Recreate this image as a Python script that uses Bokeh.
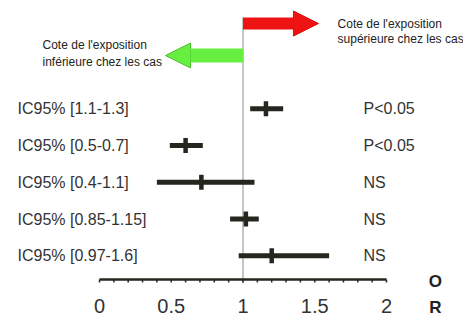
from bokeh.plotting import figure
from bokeh.models import ColumnDataSource, Arrow, NormalHead
from bokeh.core.properties import value
from bokeh.embed import file_html
from bokeh.resources import INLINE

# ---- data ----
ci_labels = ["IC95% [1.1-1.3]", "IC95% [0.5-0.7]", "IC95% [0.4-1.1]",
             "IC95% [0.85-1.15]", "IC95% [0.97-1.6]"]
odds_ratio = [1.16, 0.60, 0.71, 1.02, 1.20]
ci_low = [1.05, 0.49, 0.40, 0.91, 0.97]
ci_high = [1.28, 0.72, 1.08, 1.11, 1.60]
significance = ["P<0.05", "P<0.05", "NS", "NS", "NS"]
null_value = 1
tick_values = [0, 0.5, 1, 1.5, 2]
tick_labels = ["0", "0.5", "1", "1.5", "2"]
minor_ticks = [i / 10 for i in range(0, 21)]
upper_text = ["Cote de l'exposition", "supérieure chez les cas"]
lower_text = ["Cote de l'exposition", "inférieure chez les cas"]
axis_caption = ["O", "R"]

# ---- layout ----
n = len(ci_labels)
rows = [n - i for i in range(n)]  # top to bottom
FONT = "Liberation Sans"
TXT = "#333333"
DARK = "#26261f"
AXIS_Y = 0.355          # vertical position of the OR axis
TICK_LEN = 0.08         # tick length (data units)

p = figure(frame_width=463, frame_height=316, x_range=(-0.6899, 2.5366),
           y_range=(-0.652, 7.947),
           output_backend="svg", toolbar_location=None, min_border=0)
p.outline_line_color = None
p.xgrid.visible = False
p.ygrid.visible = False
p.xaxis.visible = False
p.yaxis.visible = False
p.background_fill_color = "white"
p.border_fill_color = "white"

src = ColumnDataSource(dict(y=rows, lab=ci_labels, orv=odds_ratio, lo=ci_low,
                            hi=ci_high, sig=significance))

# reference line at OR = 1
p.segment(x0=[null_value], x1=[null_value], y0=[7.48], y1=[AXIS_Y - 0.11],
          line_color="#b3b3b3", line_width=1.5)

# CI bars and point estimates
p.segment(x0="lo", x1="hi", y0="y", y1="y", source=src, line_color=DARK,
          line_width=5, line_cap="butt")
p.rect(x="orv", y="y", width=4.5, height=15, width_units="screen",
       height_units="screen", source=src, fill_color=DARK, line_color=None)

# row labels and significance
p.text(x=-0.571, y="y", text="lab", source=src, text_font=value(FONT),
       text_font_size="16px", text_color=TXT, text_baseline="middle")
p.text(x=1.84, y="y", text="sig", source=src, text_font=value(FONT),
       text_font_size="16px", text_color=TXT, text_baseline="middle")

# direction arrows
p.add_layout(Arrow(x_start=null_value, y_start=7.32, x_end=1.526, y_end=7.32,
                   line_color="#ee1414", line_width=12,
                   end=NormalHead(size=25, fill_color="#ee1414",
                                  line_color="#d01010", line_width=1)))
p.add_layout(Arrow(x_start=null_value, y_start=6.45, x_end=0.46, y_end=6.45,
                   line_color="#66ee40", line_width=14,
                   end=NormalHead(size=25, fill_color="#66ee40",
                                  line_color="#4cc030", line_width=1)))

p.text(x=[1.659] * 2, y=[7.32, 6.91], text=upper_text, text_font=value(FONT),
       text_font_size="12px", text_color="#222222", text_baseline="middle")
p.text(x=[-0.397] * 2, y=[6.74, 6.27], text=lower_text, text_font=value(FONT),
       text_font_size="12px", text_color="#222222", text_baseline="middle")

# OR axis (line, minor ticks, labels) drawn on the plot's own scales
p.segment(x0=[tick_values[0]], x1=[tick_values[-1]], y0=[AXIS_Y], y1=[AXIS_Y],
          line_color=DARK, line_width=2.5)
p.segment(x0=minor_ticks, x1=minor_ticks, y0=[AXIS_Y] * len(minor_ticks),
          y1=[AXIS_Y - TICK_LEN] * len(minor_ticks), line_color=DARK,
          line_width=1.5)
p.text(x=tick_values, y=[AXIS_Y - 0.71] * len(tick_values), text=tick_labels,
       text_font=value(FONT), text_font_size="20px", text_color=TXT,
       text_align="center", text_baseline="middle")

# "OR" axis caption
p.text(x=[2.34] * 2, y=[0.30, -0.41], text=axis_caption, text_font=value(FONT),
       text_font_size="17px", text_font_style="bold", text_color="#222222",
       text_align="center", text_baseline="middle")

open("out.html", "w").write(file_html(p, INLINE))
